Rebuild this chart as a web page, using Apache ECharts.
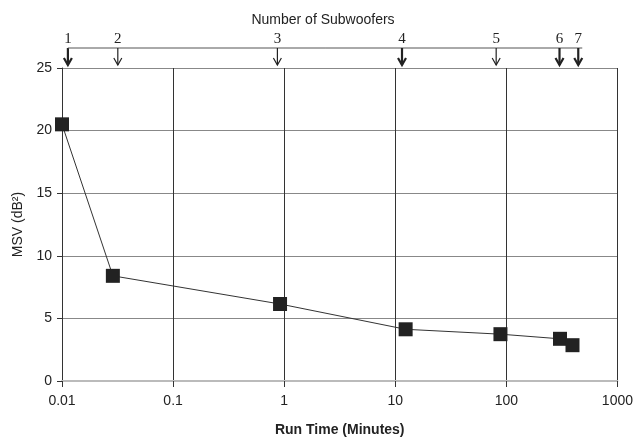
<!DOCTYPE html>
<html>
<head>
<meta charset="utf-8">
<script src="https://cdn.jsdelivr.net/npm/echarts@6/dist/echarts.min.js"></script>
<style>html,body{margin:0;padding:0;background:#fff;}#c{width:636px;height:442px;}</style>
</head>
<body>
<div id="c"></div>
<script>
// ---- data ----
const runTime = [0.01, 0.0287, 0.918, 12.4, 88.5, 304, 394];
const msv = [20.5, 8.4, 6.15, 4.13, 3.74, 3.37, 2.86];
const arrowRunTime = [0.0113, 0.0318, 0.869, 11.5, 81, 301, 444];
const subwooferLabels = ['1', '2', '3', '4', '5', '6', '7'];
const xTickLabels = ['0.01', '0.1', '1', '10', '100', '1000'];
const yTicks = [0, 5, 10, 15, 20, 25];

// ---- style ----
const boldArrowIdx = [0, 3, 5, 6];
const font = 'Liberation Sans, Arial, sans-serif';

const chart = echarts.init(document.getElementById('c'));
const points = runTime.map((x, i) => [x, msv[i]]);
const arrows = arrowRunTime.map((x, i) => [x, 25, i]);

chart.setOption({
  backgroundColor: '#fff',
  animation: false,
  grid: { left: 62, right: 17, top: 68, bottom: 53 },
  graphic: [
    { type: 'text', x: 323, y: 20, style: { text: 'Number of Subwoofers', font: '14px ' + font, fill: '#222', align: 'center', verticalAlign: 'middle' } }
  ],
  xAxis: {
    type: 'log', logBase: 10, min: 0.01, max: 1000,
    name: 'Run Time (Minutes)', nameLocation: 'middle', nameGap: 42,
    nameTextStyle: { fontFamily: font, fontSize: 14, fontWeight: 'bold', color: '#222' },
    axisLine: { show: true, onZero: false, lineStyle: { color: '#bbb', width: 2 } },
    axisTick: { show: true, length: 6, lineStyle: { color: '#333', width: 1 } },
    axisLabel: { fontFamily: font, fontSize: 14, color: '#222', margin: 13,
      formatter: (v, i) => xTickLabels[i] !== undefined ? xTickLabels[i] : '' },
    splitLine: { show: true, showMinLine: false, showMaxLine: true, lineStyle: { color: '#333', width: 1 } },
    minorTick: { show: false }
  },
  yAxis: {
    type: 'value', min: yTicks[0], max: yTicks[yTicks.length - 1], interval: 5,
    name: 'MSV (dB²)', nameLocation: 'middle', nameGap: 36, nameRotate: 90,
    nameTextStyle: { fontFamily: font, fontSize: 14, color: '#222' },
    axisLine: { show: true, lineStyle: { color: '#333', width: 1 } },
    axisTick: { show: true, length: 5, lineStyle: { color: '#333' } },
    axisLabel: { fontFamily: font, fontSize: 14, color: '#222', margin: 10 },
    splitLine: { show: true, showMinLine: false, showMaxLine: true,
      lineStyle: { color: ['#888', '#888', '#888', '#888', '#888', '#555'], width: 1.2 } }
  },
  series: [
    {
      type: 'line', data: points, symbol: 'rect', symbolSize: 14,
      itemStyle: { color: '#222' },
      lineStyle: { color: '#333', width: 1 },
      z: 5
    },
    {
      type: 'custom', data: arrows, clip: false, silent: true, z: 6,
      renderItem: function (params, api) {
        const i = api.value(2);
        const p = api.coord([api.value(0), api.value(1)]);
        const x = p[0], top = p[1];
        const bold = boldArrowIdx.indexOf(i) >= 0;
        const lw = bold ? 2.2 : 1.2;
        const children = [
          { type: 'line', shape: { x1: x, y1: top - 20, x2: x, y2: top - 3 }, style: { stroke: '#222', lineWidth: lw } },
          { type: 'polyline', shape: { points: [[x - 4, top - 10], [x, top - 3], [x + 4, top - 10]] }, style: { stroke: '#222', lineWidth: lw, fill: null } },
          { type: 'text', style: { x: x, y: top - 29, text: subwooferLabels[i], font: '15px Liberation Serif, Times New Roman, serif', fill: '#222', align: 'center', verticalAlign: 'middle' } }
        ];
        if (i === 0) {
          const pEnd = api.coord([arrowRunTime[arrowRunTime.length - 1], api.value(1)]);
          children.push({ type: 'line', shape: { x1: x, y1: top - 20, x2: pEnd[0] + 4, y2: top - 20 }, style: { stroke: '#555', lineWidth: 1 } });
        }
        return { type: 'group', children: children };
      }
    }
  ]
});
</script>
</body>
</html>
